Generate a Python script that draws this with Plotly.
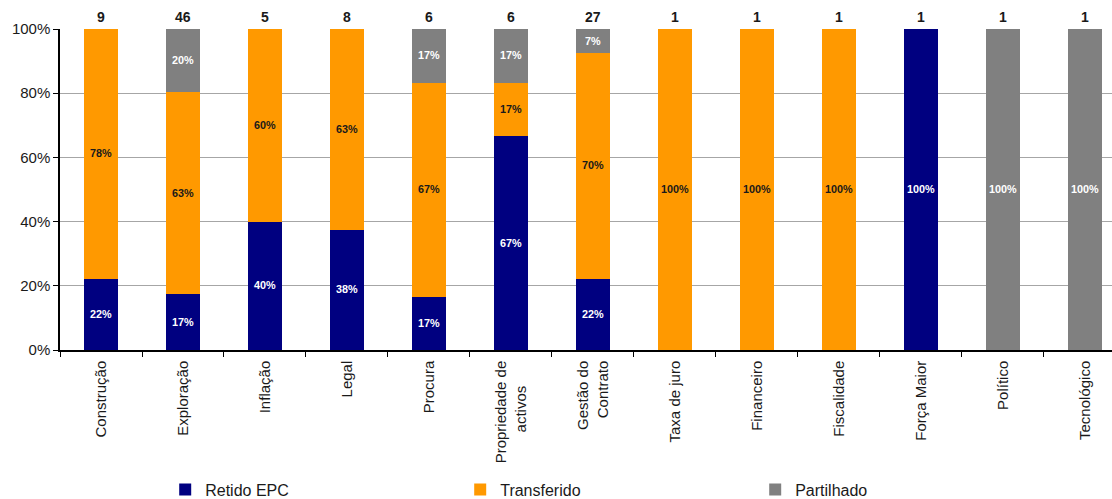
import math
import plotly.graph_objects as go

# Risk categories and how many risks fall in each allocation group
NB = "\u00a0"
categories = ["Construção", "Exploração", "Inflação", "Legal", "Procura",
              "Propriedade de<br>activos" + NB * 6, "Gestão do<br>Contrato", "Taxa de juro",
              "Financeiro", "Fiscalidade", "Força Maior", "Político", "Tecnológico"]
retido = [2, 8, 2, 3, 1, 4, 6, 0, 0, 0, 1, 0, 0]
transferido = [7, 29, 3, 5, 4, 1, 19, 1, 1, 1, 0, 0, 0]
partilhado = [0, 9, 0, 0, 1, 1, 2, 0, 0, 0, 0, 1, 1]

totals = [a + b + c for a, b, c in zip(retido, transferido, partilhado)]


def shares(counts):
    return [c / t for c, t in zip(counts, totals)]


def labels(counts):
    out = []
    for c, t in zip(counts, totals):
        out.append("" if c == 0 else f"<b>{math.floor(c / t * 100 + 0.5)}%</b>")
    return out


FONT = "Liberation Sans, Arial, sans-serif"
series = [
    ("Retido EPC", retido, "#000080", "white"),
    ("Transferido", transferido, "#FF9900", "#1a1a1a"),
    ("Partilhado", partilhado, "#808080", "white"),
]

fig = go.Figure()
for name, counts, color, tcolor in series:
    fig.add_trace(go.Bar(
        name=name, x=categories, y=shares(counts), text=labels(counts),
        textposition="inside", insidetextanchor="middle", textangle=0,
        textfont=dict(family=FONT, size=12, color=tcolor),
        marker=dict(color=color, line=dict(width=0)), width=0.415,
    ))

# Number of risks above each column
for cat, tot in zip(categories, totals):
    fig.add_annotation(x=cat, y=1, yref="y", text=f"<b>{tot}</b>", showarrow=False,
                       yanchor="bottom", yshift=2,
                       font=dict(family=FONT, size=14, color="#1a1a1a"))

fig.update_layout(
    barmode="stack",
    width=1112, height=499,
    margin=dict(l=60, r=0, t=29, b=149, autoexpand=False),
    plot_bgcolor="white", paper_bgcolor="white",
    font=dict(family=FONT, color="#1a1a1a"),
    uniformtext=dict(minsize=6, mode="show"),
    legend=dict(orientation="h", traceorder="normal",
                x=0.1, y=-0.382, xanchor="left", yanchor="top",
                entrywidth=250, entrywidthmode="pixels", itemwidth=30,
                font=dict(family=FONT, size=16, color="#1a1a1a")),
)
fig.update_xaxes(
    range=[-0.5, 12.33], showline=True, linecolor="black", linewidth=1.5,
    ticks="outside", tickson="boundaries", ticklen=5, tickcolor="black",
    tickangle=-90, tickfont=dict(family=FONT, size=15, color="#1a1a1a"),
    ticklabelstandoff=3, showgrid=False, automargin=False,
)
fig.update_yaxes(
    range=[0, 1], tickvals=[0, 0.2, 0.4, 0.6, 0.8, 1.0], tickformat=".0%",
    showline=True, linecolor="black", linewidth=1.5, ticks="outside", ticklen=5,
    tickcolor="black", showgrid=True, gridcolor="#a6a6a6", gridwidth=1,
    tickfont=dict(family=FONT, size=15, color="#1a1a1a"), zeroline=False,
    automargin=False,
)

fig.write_html("out.html")
